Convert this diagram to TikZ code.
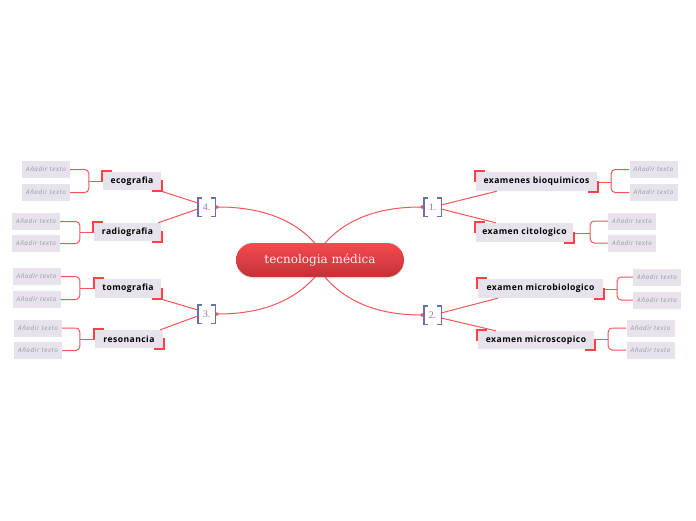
\documentclass[tikz,border=0pt]{standalone}
\usepackage{fontspec}
\setmainfont{Open Sans}
\newfontfamily\titlefont{DejaVu Serif}
\newfontfamily\numfont{Liberation Serif}
\newfontfamily\topicfont[LetterSpace=5]{Open Sans}
\newfontfamily\childfont[LetterSpace=9]{Open Sans}
\usetikzlibrary{arrows.meta,calc,backgrounds,shadows}
\definecolor{lnred}{HTML}{F5555A}
\definecolor{mkred}{HTML}{FF4046}
\definecolor{boxbg}{HTML}{E8E2EC}
\definecolor{childtx}{HTML}{9A94A0}
\definecolor{brk}{HTML}{6E6EAE}
\definecolor{numtx}{HTML}{9A70B0}
\definecolor{ctop}{HTML}{F44A50}
\definecolor{cbot}{HTML}{C23236}
\newcommand\cornermarks[1]{%
  \draw[cmark] ($(#1.north west)+(-1,10)$) -- ($(#1.north west)+(-1,-1)$) -- ($(#1.north west)+(9,-1)$);
  \draw[cmark] ($(#1.south east)+(1,-10)$) -- ($(#1.south east)+(1,1)$) -- ($(#1.south east)+(-9,1)$);}
\newcommand\numbrackets[1]{%
  \draw[brkt] ($(#1.north west)+(4,0)$) -- (#1.north west) -- (#1.south west) -- ($(#1.south west)+(4,0)$);
  \draw[brkt] ($(#1.north east)+(-4,0)$) -- (#1.north east) -- (#1.south east) -- ($(#1.south east)+(-4,0)$);}
\begin{document}
\begin{tikzpicture}[x=1pt,y=-1pt,
  conn/.style={draw=lnred, line width=1pt},
  topic/.style={fill=boxbg, inner sep=0pt, font=\topicfont\bfseries\fontsize{8.6}{10}\selectfont, text=black},
  child/.style={fill=boxbg, inner sep=0pt, minimum width=48, minimum height=17, font=\childfont\itshape\fontsize{6.3}{7}\selectfont, text=childtx},
  num/.style={inner sep=0pt, minimum width=17, minimum height=18, font=\numfont\fontsize{10}{11}\selectfont, text=numtx},
  cmark/.style={draw=mkred, line width=2pt},
  brkt/.style={draw=brk, line width=1.4pt},
  central/.style={rounded corners=17pt, minimum width=168, minimum height=34, top color=ctop, bottom color=cbot, draw=none, text=white!94!red, font=\titlefont\fontsize{12}{14}\selectfont, drop shadow={opacity=0.18, shadow xshift=0pt, shadow yshift=-1.5pt}},
  dot/.style={-{Circle[length=3.5pt]}}
]
\path[use as bounding box] (0,0) rectangle (696,520);

% central
\node[central] (c) at (320,260) {tecnologia médica};

% number brackets
\node[num] (n1) at (432.5,207) {1.};
\node[num] (n2) at (432.5,315) {2.};
\node[num] (n3) at (206.5,314) {3.};
\node[num] (n4) at (206.5,207) {4.};
\numbrackets{n1}\numbrackets{n2}\numbrackets{n3}\numbrackets{n4}

% central curves
\begin{scope}[on background layer]
\fill[white] (0,0) rectangle (696,520);
\draw[conn, dot] ($(c.center)+(-8,2)$) .. controls ($(c.center)+(8,-28)$) and ($(n1.west)+(-64,0)$) .. (n1.west);
\draw[conn, dot] ($(c.center)+(-8,-2)$) .. controls ($(c.center)+(8,28)$) and ($(n2.west)+(-64,0)$) .. (n2.west);
\draw[conn, dot] ($(c.center)+(8,-2)$) .. controls ($(c.center)+(-8,28)$) and ($(n3.east)+(64,0)$) .. (n3.east);
\draw[conn, dot] ($(c.center)+(8,2)$) .. controls ($(c.center)+(-8,-28)$) and ($(n4.east)+(64,0)$) .. (n4.east);
\end{scope}

% topics right
\node[topic, minimum width=121, minimum height=19] (bio) at (536.5,181.5) {examenes bioquimicos};
\node[topic, minimum width=97, minimum height=19] (cito) at (524.5,232.5) {examen citologico};
\node[topic, minimum width=125, minimum height=19] (micro) at (540.5,288.5) {examen microbiologico};
\node[topic, minimum width=116, minimum height=18] (micros) at (536,340) {examen microscopico};
% topics left
\node[topic, minimum width=58, minimum height=18] (eco) at (132,181) {ecografia};
\node[topic, minimum width=67, minimum height=18] (radio) at (127.5,232) {radiografia};
\node[topic, minimum width=66, minimum height=19] (tomo) at (128,288.5) {tomografia};
\node[topic, minimum width=68, minimum height=18] (reson) at (129,339) {resonancia};

% connectors number -> topics
\draw[conn] ($(n1.east)+(0,-2)$) -- ($(bio.south west)+(21,0)$);
\draw[conn] ($(n1.east)+(0,2)$) -- ($(cito.north west)+(20,0)$);
\draw[conn] ($(n2.east)+(0,-2)$) -- ($(micro.south west)+(20,0)$);
\draw[conn] ($(n2.east)+(0,3)$) -- ($(micros.north west)+(18,0)$);
\draw[conn] ($(n4.west)+(0,-4)$) -- ($(eco.south east)+(-3,0)$);
\draw[conn] ($(n4.west)+(0,2)$) -- ($(radio.north east)+(-3,0)$);
\draw[conn] ($(n3.west)+(0,-4)$) -- ($(tomo.south east)+(-3,0)$);
\draw[conn] ($(n3.west)+(0,2)$) -- ($(reson.north east)+(-3,0)$);

% children right
\node[child] (bio1) at (653.5,169.5) {Añadir texto};
\node[child] (bio2) at (653.5,192.5) {Añadir texto};
\node[child] (cito1) at (632,221) {Añadir texto};
\node[child] (cito2) at (632,243) {Añadir texto};
\node[child] (micro1) at (657,277) {Añadir texto};
\node[child] (micro2) at (657,300) {Añadir texto};
\node[child] (micros1) at (650.5,328) {Añadir texto};
\node[child] (micros2) at (650.5,350) {Añadir texto};
% children left
\node[child] (eco1) at (46,169.5) {Añadir texto};
\node[child] (eco2) at (46,192.5) {Añadir texto};
\node[child] (radio1) at (36,221.5) {Añadir texto};
\node[child] (radio2) at (36,243.5) {Añadir texto};
\node[child] (tomo1) at (36.5,276.5) {Añadir texto};
\node[child] (tomo2) at (36.5,299.5) {Añadir texto};
\node[child] (reson1) at (38,328) {Añadir texto};
\node[child] (reson2) at (38,350.5) {Añadir texto};

% child brackets
\coordinate (jbio) at ($(bio.east)+(14,0.5)$);
\coordinate (jcito) at ($(cito.east)+(17,0.5)$);
\coordinate (jmicro) at ($(micro.east)+(14,0.5)$);
\coordinate (jmicros) at ($(micros.east)+(14,-1)$);
\coordinate (jeco) at ($(eco.west)+(-14,0)$);
\coordinate (jradio) at ($(radio.west)+(-14,0.5)$);
\coordinate (jtomo) at ($(tomo.west)+(-15,0)$);
\coordinate (jreson) at ($(reson.west)+(-15,0)$);
\foreach \t in {bio,cito,micro,micros}{
  \draw[conn] (\t.east |- j\t) -- (j\t);
  \draw[conn, rounded corners=4pt] (j\t) |- (\t1.west);
  \draw[conn, rounded corners=4pt] (j\t) |- (\t2.west);
}
\foreach \t in {eco,radio,tomo,reson}{
  \draw[conn] (\t.west |- j\t) -- (j\t);
  \draw[conn, rounded corners=4pt] (j\t) |- (\t1.east);
  \draw[conn, rounded corners=4pt] (j\t) |- (\t2.east);
}

% corner marks
\foreach \t in {bio,cito,micro,micros,eco,radio,tomo,reson}{\cornermarks{\t}}
\end{tikzpicture}
\end{document}
